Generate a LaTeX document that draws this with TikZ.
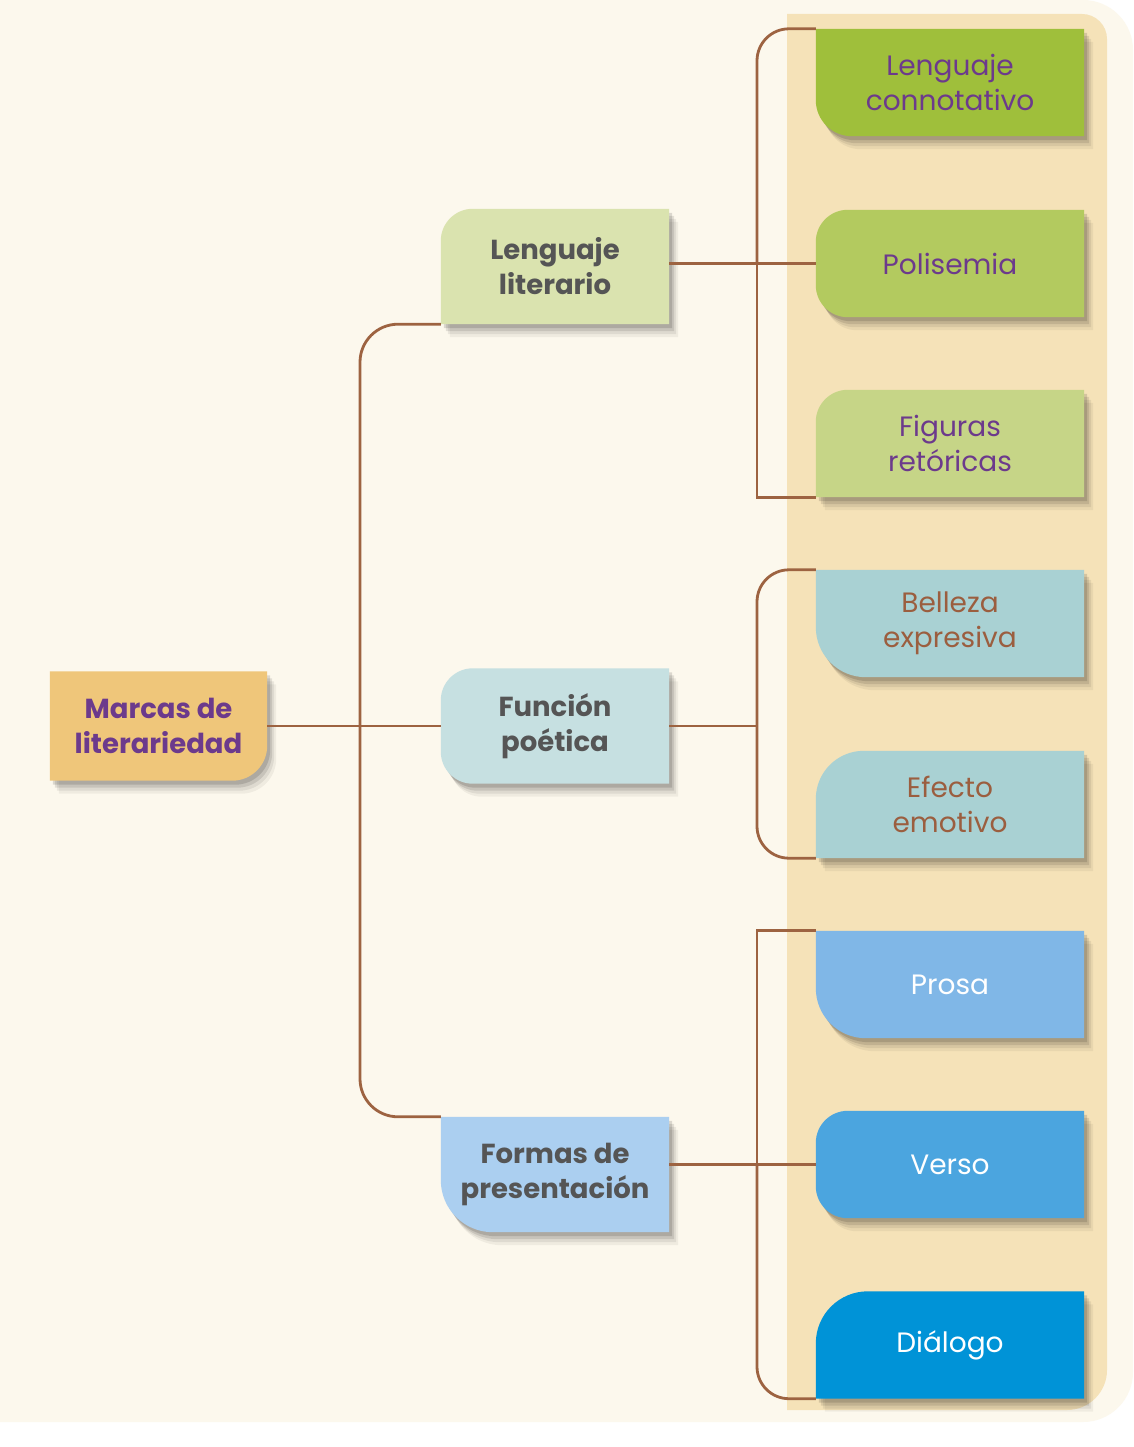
\documentclass[tikz,border=0pt]{standalone}
\usepackage{fontspec}
\setmainfont{Poppins}
\usetikzlibrary{shadows}

\pgfdeclarelayer{back}
\pgfdeclarelayer{cards}
\pgfsetlayers{back,cards,main}

\definecolor{cream}{HTML}{FCF8ED}
\definecolor{panel}{HTML}{F5E2B8}
\definecolor{linkbrown}{HTML}{9D6341}
\definecolor{txtpurple}{HTML}{6C3A8C}
\definecolor{txtgray}{HTML}{555555}
\definecolor{txtbrown}{HTML}{9B5E3F}
\definecolor{cMarcas}{HTML}{EFC67A}
\definecolor{cLitera}{HTML}{DAE3AF}
\definecolor{cFuncion}{HTML}{C6E0E1}
\definecolor{cFormas}{HTML}{ABCFF0}
\definecolor{cConnot}{HTML}{9FBF3B}
\definecolor{cPolis}{HTML}{B3CA5F}
\definecolor{cFiguras}{HTML}{C6D587}
\definecolor{cTeal}{HTML}{A9D1D3}
\definecolor{cProsa}{HTML}{80B7E7}
\definecolor{cVerso}{HTML}{4BA5DF}
\definecolor{cDialogo}{HTML}{0093D7}

% card fill behind a node: node, colour, corner radii nw ne se sw
\newcommand{\cardbg}[6]{%
	\begin{pgfonlayer}{cards}
		\fill[#2, card shadow] ([yshift=-#3]#1.north west) arc[start angle=180, end angle=90, radius=#3]
			-- ([xshift=-#4]#1.north east) arc[start angle=90, end angle=0, radius=#4]
			-- ([yshift=#5]#1.south east) arc[start angle=0, end angle=-90, radius=#5]
			-- ([xshift=#6]#1.south west) arc[start angle=270, end angle=180, radius=#6] -- cycle;
	\end{pgfonlayer}}

\begin{document}
\begin{tikzpicture}[x=1pt, y=-1pt,
	card/.style={minimum width=268pt, minimum height=107pt, inner sep=0pt, align=center, font=\fontsize{28}{35}\selectfont},
	main card/.style={minimum width=228pt, minimum height=115pt, inner sep=0pt, align=center, font=\fontsize{27.5}{35}\selectfont\bfseries, text=txtgray},
	link/.style={draw=linkbrown, line width=2.8pt},
	card shadow/.style={
		drop shadow={shadow xshift=9pt, shadow yshift=-13pt, opacity=0.05, fill=black},
		drop shadow={shadow xshift=7pt, shadow yshift=-10pt, opacity=0.07, fill=black},
		drop shadow={shadow xshift=5pt, shadow yshift=-7pt, opacity=0.10, fill=black},
		drop shadow={shadow xshift=3pt, shadow yshift=-4pt, opacity=0.13, fill=black}}]
	\useasboundingbox (0,0) rectangle (1133,1447);

	% background and right panel
	\begin{pgfonlayer}{back}
		\fill[white] (0,0) rectangle (1133,1447);
		\fill[cream] (0,0) -- (1083,0) arc[start angle=90, end angle=0, radius=50pt] -- (1133,1372)
			arc[start angle=0, end angle=-90, radius=50pt] -- (0,1422) -- cycle;
		\fill[panel] (787,14) -- (1082,14) arc[start angle=90, end angle=0, radius=25pt] -- (1107,1370)
			arc[start angle=0, end angle=-90, radius=40pt] -- (787,1410) -- cycle;
	\end{pgfonlayer}

	% left column
	\node[main card, minimum width=217pt, minimum height=109pt, text=txtpurple] (marcas) at (158.5,726) {Marcas de\\literariedad};
	\node[main card] (litera) at (555,266.5) {Lenguaje\\literario};
	\node[main card] (funcion) at (555,726) {Función\\poética};
	\node[main card] (formas) at (555,1174.5) {Formas de\\presentación};
	\cardbg{marcas}{cMarcas}{0.01pt}{0.01pt}{35pt}{0.01pt}
	\cardbg{litera}{cLitera}{32pt}{0.01pt}{0.01pt}{0.01pt}
	\cardbg{funcion}{cFuncion}{32pt}{0.01pt}{0.01pt}{32pt}
	\cardbg{formas}{cFormas}{0.01pt}{0.01pt}{0.01pt}{52pt}

	% right column
	\node[card, text=txtpurple] (connot) at (950,82.5) {Lenguaje\\connotativo};
	\node[card, text=txtpurple] (polis) at (950,263.5) {Polisemia};
	\node[card, text=txtpurple] (figuras) at (950,443.5) {Figuras\\retóricas};
	\node[card, text=txtbrown] (belleza) at (950,623.5) {Belleza\\expresiva};
	\node[card, text=txtbrown] (efecto) at (950,804.5) {Efecto\\emotivo};
	\node[card, text=white] (prosa) at (950,984.5) {Prosa};
	\node[card, text=white] (verso) at (950,1164.5) {Verso};
	\node[card, text=white] (dialogo) at (950,1345) {Diálogo};
	\cardbg{connot}{cConnot}{0.01pt}{0.01pt}{0.01pt}{36pt}
	\cardbg{polis}{cPolis}{32pt}{0.01pt}{0.01pt}{32pt}
	\cardbg{figuras}{cFiguras}{32pt}{0.01pt}{0.01pt}{0.01pt}
	\cardbg{belleza}{cTeal}{0.01pt}{0.01pt}{0.01pt}{50pt}
	\cardbg{efecto}{cTeal}{48pt}{0.01pt}{0.01pt}{0.01pt}
	\cardbg{prosa}{cProsa}{0.01pt}{0.01pt}{0.01pt}{50pt}
	\cardbg{verso}{cVerso}{32pt}{0.01pt}{0.01pt}{32pt}
	\cardbg{dialogo}{cDialogo}{52pt}{0.01pt}{0.01pt}{0.01pt}

	% connectors
	\coordinate (trunk) at (360,726);
	\coordinate (b1) at (757,263.5);
	\coordinate (b2) at (757,726);
	\coordinate (b3) at (757,1164.5);
	\draw[link] (marcas.east) -- (funcion.west);
	\draw[link, rounded corners=38pt] (litera.south west) -| (trunk) |- (formas.north west);
	\draw[link] (polis.west -| litera.east) -- (polis.west);
	\draw[link, rounded corners=32pt] (connot.north west) -| (b1);
	\draw[link] (b1) |- (figuras.south west);
	\draw[link] (funcion.east) -- (b2);
	\draw[link, rounded corners=32pt] (belleza.north west) -| (b2) |- (efecto.south west);
	\draw[link] (verso.west -| formas.east) -- (verso.west);
	\draw[link] (prosa.north west) -| (b3);
	\draw[link, rounded corners=32pt] (b3) |- (dialogo.south west);
\end{tikzpicture}
\end{document}
